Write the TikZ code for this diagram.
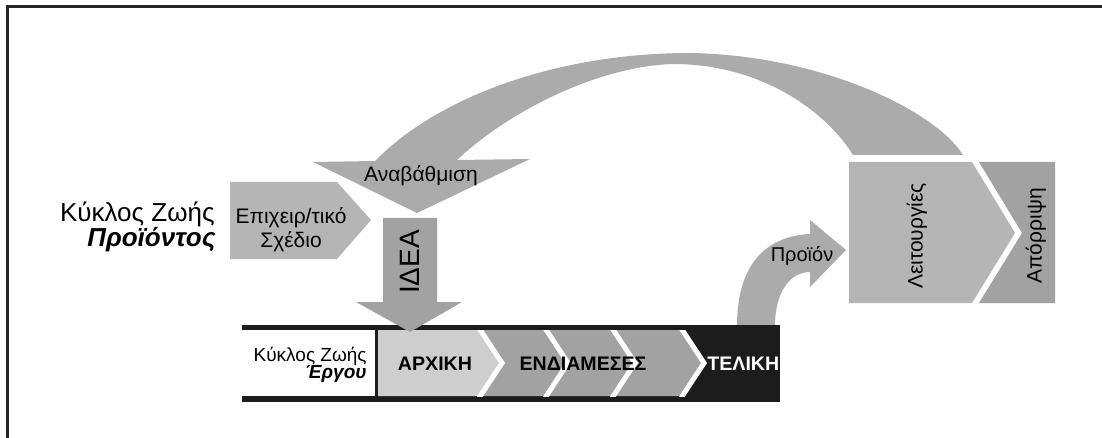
\documentclass[tikz,border=0pt]{standalone}
\usepackage{fontspec}
\setmainfont{Liberation Sans}
\definecolor{lcFrame}{HTML}{262626}
\definecolor{lcInk}{HTML}{1C1C1C}
\definecolor{lcLight}{HTML}{B5B5B5}
\definecolor{lcArc}{HTML}{ABABAB}
\definecolor{lcMid}{HTML}{A2A2A2}
\definecolor{lcPale}{HTML}{CECECE}
\tikzset{
  lbl/.style={inner sep=0pt,font=\fontsize{10.5}{12}\selectfont},
  phase/.style={inner sep=0pt,font=\fontsize{9.8}{11}\selectfont\bfseries},
  sep/.style={white,line width=2.5pt}
}
\begin{document}
\begin{tikzpicture}[x=0.5pt,y=-0.5pt]
  \useasboundingbox (0,0) rectangle (1102,438);
  \draw[lcFrame,line width=1.5pt] (7,440) -- (7,7) -- (1104,7);

  % product life cycle
  \node[inner sep=0pt,anchor=base east,font=\fontsize{13}{13}\selectfont] (plcTop) at (215,222) {Κύκλος Ζωής};
  \node[inner sep=0pt,anchor=base east,font=\fontsize{13}{13}\selectfont\bfseries\itshape] (plcBottom) at (216,247) {Προϊόντος};

  \fill[lcLight] (230,182) -- (337,182) -- (371,220) -- (337,259) -- (230,259) -- cycle;
  \node[lbl,align=center] (bplan) at (291,230) {Επιχειρ/τικό\\Σχέδιο};

  \fill[lcArc] (313,162) -- (375,161) .. controls (440,95) and (560,53) .. (690,53)
    .. controls (820,55) and (935,110) .. (963,155) -- (853,155)
    .. controls (825,110) and (760,64) .. (673,64)
    .. controls (600,66) and (510,110) .. (457,160) -- (530,159) -- (417,213) -- cycle;
  \node[lbl] (upgrade) at (421,176) {Αναβάθμιση};

  \fill[lcArc] (737,326) .. controls (737,262) and (768,236) .. (810,234) -- (810,220)
    -- (846,250) -- (810,287) -- (810,272) .. controls (790,272) and (775,292) .. (775,326) -- cycle;
  \node[lbl,font=\fontsize{10}{12}\selectfont] (product) at (802,256) {Προϊόν};

  \fill[lcLight] (849,162) -- (972,162) -- (1015,233) -- (972,303) -- (849,303) -- cycle;
  \fill[lcMid] (979,162) -- (1055,162) -- (1055,303) -- (979,303) -- (1022,233) -- cycle;
  \node[lbl,rotate=90] (ops) at (917,236) {Λειτουργίες};
  \node[lbl,rotate=90] (disposal) at (1036,236) {Απόρριψη};

  % project life cycle bar
  \fill[lcInk] (242,325) rectangle (780,402);
  \fill[white] (242,330) rectangle (375,396);
  \fill[lcPale] (378,330) -- (479,330) -- (502,363) -- (479,396) -- (378,396) -- cycle;
  \fill[lcMid] (479,330) -- (681,330) -- (704,363) -- (681,396) -- (479,396) -- (502,363) -- cycle;
  \begin{scope}
    \clip (378,330) rectangle (780,396);
    \foreach \x in {479,545,612,681}
      \draw[sep] (\x,328) -- (\x+23,363) -- (\x,398);
  \end{scope}
  \node[inner sep=0pt,anchor=base east,font=\fontsize{9.5}{10}\selectfont] (plcSmallTop) at (367,361) {Κύκλος Ζωής};
  \node[inner sep=0pt,anchor=base east,font=\fontsize{9.5}{10}\selectfont\bfseries\itshape] (plcSmallBottom) at (367,378) {Έργου};
  \node[phase] (initial) at (435,364) {ΑΡΧΙΚΗ};
  \node[phase] (middle) at (583,364) {ΕΝΔΙΑΜΕΣΕΣ};
  \node[phase,white,anchor=west] (final) at (707,364) {ΤΕΛΙΚΗ};

  \fill[lcMid] (383,218) -- (437,218) -- (437,302) -- (462,302) -- (410,332)
    -- (356,302) -- (383,302) -- cycle;
  \node[inner sep=0pt,rotate=90,font=\fontsize{14}{16}\selectfont] (idea) at (410,262) {ΙΔΕΑ};
\end{tikzpicture}
\end{document}
